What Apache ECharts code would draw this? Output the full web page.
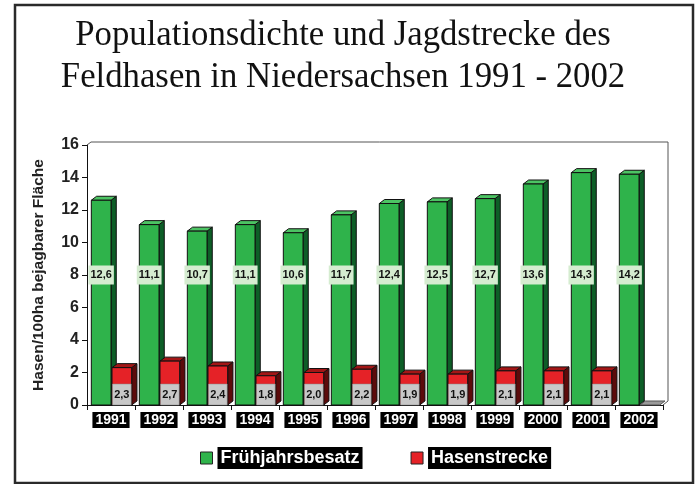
<!DOCTYPE html>
<html><head><meta charset="utf-8">
<script src="https://cdn.jsdelivr.net/npm/echarts@6/dist/echarts.min.js"></script>
<style>html,body{margin:0;padding:0;background:#fff}#c{width:700px;height:484px}</style>
</head><body><div id="c"></div>
<script>
const years = ['1991','1992','1993','1994','1995','1996','1997','1998','1999','2000','2001','2002'];
const fruehjahrsbesatz = [12.6, 11.1, 10.7, 11.1, 10.6, 11.7, 12.4, 12.5, 12.7, 13.6, 14.3, 14.2];
const hasenstrecke = [2.3, 2.7, 2.4, 1.8, 2.0, 2.2, 1.9, 1.9, 2.1, 2.1, 2.1, 0];
const yTicks = {min: 0, max: 16, interval: 2};
const titleLines = ['Populationsdichte und Jagdstrecke des', 'Feldhasen in Niedersachsen 1991 - 2002'];
const yName = 'Hasen/100ha bejagbarer Fläche';
const seriesNames = ['Frühjahrsbesatz', 'Hasenstrecke'];

const GREEN = {front: '#2fb34b', side: '#0d5e27', top: '#4cc463', label: '#d5ecd0'};
const RED = {front: '#e52227', side: '#5c0b0b', top: '#a31616', label: '#c8c8c8'};
const fmt = v => v.toFixed(1).replace('.', ',');

function makeRender(col, isRed) {
  return function (params, api) {
    const idx = api.value(0), v = api.value(1);
    const base = api.coord([idx, 0]);
    const top = api.coord([idx, v]);
    const bw = api.size([1, 0])[0];
    const fw = bw * 0.41;
    const x0 = isRed ? base[0] + 1 : base[0] - fw;
    const x1 = x0 + fw;
    const dx = bw * 0.11, dy = 4;
    const yT = top[1], yB = base[1];
    const stroke = {stroke: '#111', lineWidth: 1};
    const ch = [];
    if (v === 0) {
      ch.push({type: 'polygon', shape: {points: [[x0, yB], [x0 + dx, yB - dy], [x1 + dx, yB - dy], [x1, yB]]},
        style: {fill: '#9a9a9a', stroke: '#555', lineWidth: 1}});
      return {type: 'group', children: ch};
    }
    ch.push({type: 'polygon', shape: {points: [[x1, yB], [x1 + dx, yB - dy], [x1 + dx, yT - dy], [x1, yT]]},
      style: Object.assign({fill: col.side}, stroke)});
    ch.push({type: 'polygon', shape: {points: [[x0, yT], [x0 + dx, yT - dy], [x1 + dx, yT - dy], [x1, yT]]},
      style: Object.assign({fill: col.top}, stroke)});
    ch.push({type: 'rect', shape: {x: x0, y: yT, width: fw, height: yB - yT},
      style: Object.assign({fill: col.front}, stroke)});
    if (isRed) {
      const h = 21;
      ch.push({type: 'rect', shape: {x: x0 + 0.5, y: yB - h, width: fw - 1, height: h},
        style: {fill: col.label, stroke: '#888', lineWidth: 0.5}});
      ch.push({type: 'text', style: {text: fmt(v), x: x0 + fw / 2, y: yB - h / 2, align: 'center', verticalAlign: 'middle',
        fontSize: 11, fontWeight: 'bold', fontFamily: 'Liberation Sans', fill: '#111'}});
    } else {
      const yl = api.coord([idx, 8])[1];
      ch.push({type: 'text', style: {text: fmt(v), x: x0 + fw / 2, y: yl, align: 'center', verticalAlign: 'middle',
        fontSize: 11, fontWeight: 'bold', fontFamily: 'Liberation Sans', fill: '#111',
        backgroundColor: col.label, padding: [4, 2]}});
    }
    return {type: 'group', children: ch};
  };
}

function renderFrame(params, api) {
  const cs = params.coordSys;
  const x = cs.x, y = cs.y, w = cs.width, h = cs.height;
  return {type: 'group', children: [
    {type: 'polyline', shape: {points: [[x + 4, y - 3], [x + w + 5, y - 3], [x + w + 5, y + h - 4], [x + w, y + h]]},
      style: {stroke: '#555', lineWidth: 1, fill: null}},
    {type: 'line', shape: {x1: x, y1: y, x2: x + 4, y2: y - 3}, style: {stroke: '#555', lineWidth: 1}}
  ]};
}

const chart = echarts.init(document.getElementById('c'), null, {renderer: 'canvas'});
chart.setOption({
  animation: false,
  backgroundColor: '#fff',
  graphic: [
    {type: 'rect', shape: {x: 15, y: 5, width: 678, height: 478}, style: {fill: null, stroke: '#2a2a2a', lineWidth: 2.5}, silent: true},
    {type: 'text', x: 343, y: 15, scaleX: 0.965, style: {text: titleLines.join('\n'), align: 'center', verticalAlign: 'top',
      fontFamily: 'Liberation Serif', fontSize: 36, lineHeight: 42, fill: '#111'}, silent: true}
  ],
  grid: {left: 87, right: 37, top: 145, bottom: 79, containLabel: false},
  legend: {
    left: 195, top: 442, itemWidth: 12, itemHeight: 12, itemGap: 48, icon: 'rect',
    selectedMode: false,
    textStyle: {color: '#fff', backgroundColor: '#000', fontWeight: 'bold', fontSize: 18, fontFamily: 'Liberation Sans', padding: [2, 3]},
    data: [
      {name: seriesNames[0], itemStyle: {color: GREEN.front, borderColor: '#222', borderWidth: 1}},
      {name: seriesNames[1], itemStyle: {color: RED.front, borderColor: '#222', borderWidth: 1}}
    ]
  },
  xAxis: {
    type: 'category', data: years,
    axisLine: {show: true, lineStyle: {color: '#111', width: 1}},
    axisTick: {show: true, length: 5, lineStyle: {color: '#111'}},
    axisLabel: {color: '#fff', backgroundColor: '#000', fontWeight: 'bold', fontSize: 14, fontFamily: 'Liberation Sans',
      padding: [1, 3], margin: 7, interval: 0}
  },
  yAxis: {
    type: 'value', min: yTicks.min, max: yTicks.max, interval: yTicks.interval,
    name: yName, nameLocation: 'middle', nameGap: 40, nameRotate: 90,
    nameTextStyle: {fontWeight: 'bold', fontSize: 15.5, fontFamily: 'Liberation Sans', color: '#222'},
    axisLine: {show: true, lineStyle: {color: '#111', width: 1}},
    axisTick: {show: true, length: 5, lineStyle: {color: '#111'}},
    axisLabel: {fontWeight: 'bold', fontSize: 16, fontFamily: 'Liberation Sans', color: '#222', margin: 8},
    splitLine: {show: false}
  },
  series: [
    {type: 'custom', name: 'frame', silent: true, renderItem: renderFrame, data: [[0, 0]], z: 1},
    {type: 'custom', name: seriesNames[0], renderItem: makeRender(GREEN, false), itemStyle: {color: GREEN.front},
      data: fruehjahrsbesatz.map((v, i) => [i, v]), encode: {x: 0, y: 1}, z: 3},
    {type: 'custom', name: seriesNames[1], renderItem: makeRender(RED, true), itemStyle: {color: RED.front},
      data: hasenstrecke.map((v, i) => [i, v]), encode: {x: 0, y: 1}, z: 3}
  ]
});
</script></body></html>
